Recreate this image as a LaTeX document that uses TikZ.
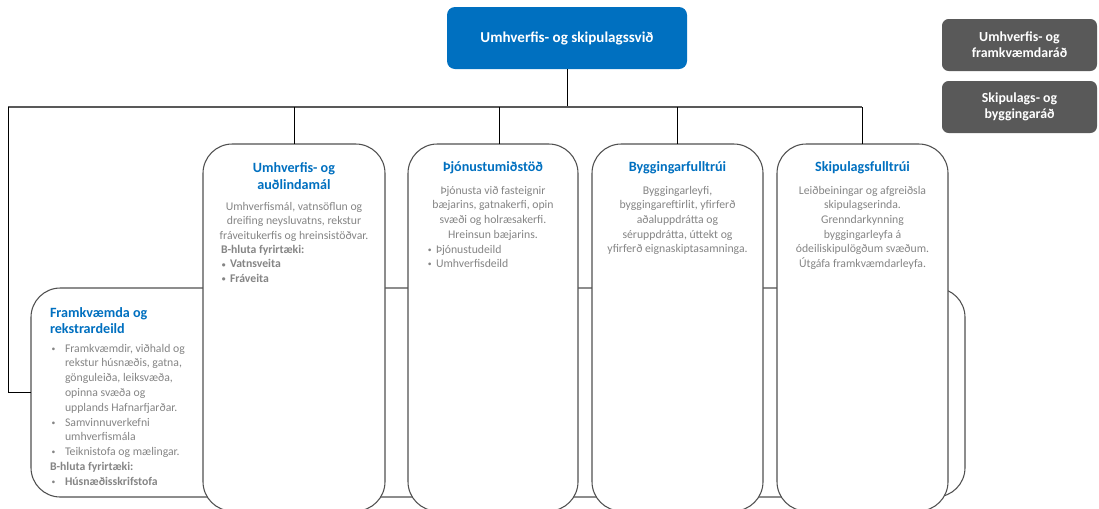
\documentclass[tikz,border=0pt]{standalone}
\usepackage{fontspec}
\setmainfont{Carlito}
\definecolor{blueh}{HTML}{0070C0}
\definecolor{grayt}{HTML}{858585}
\definecolor{darkbox}{HTML}{595959}
\definecolor{edgec}{HTML}{505050}
\newcommand\dotb{\raisebox{0.15ex}{\scalebox{0.65}{\textbullet}}}
\newcommand\bl{\hbox to 11.25pt{\hspace*{1.2pt}\dotb\hss}}
\newcommand\bs{\hbox to 6.75pt{\hspace*{0.6pt}\dotb\hss}}
\newcommand\ind{\hspace*{11.25pt}}
\begin{document}
\begin{tikzpicture}[x=0.75pt,y=-0.75pt,
  every node/.style={inner sep=0pt,outer sep=0pt},
  colbox/.style={draw=edgec,line width=0.8pt,fill=white,rounded corners=22pt,minimum height=275.25pt},
  bgbox/.style={draw=edgec,line width=0.8pt,fill=white,rounded corners=22pt,minimum width=700.5pt,minimum height=156.75pt},
  topbox/.style={fill=blueh,rounded corners=6pt,minimum width=180pt,minimum height=46.5pt,text=white,font=\fontsize{11.3}{13}\selectfont\bfseries},
  sidebox/.style={fill=darkbox,rounded corners=5pt,minimum width=116.25pt,minimum height=39pt,text=white,align=center,font=\fontsize{10.4}{12}\selectfont\bfseries},
  head/.style={text=blueh,align=center,font=\fontsize{10.6}{12.75}\selectfont\bfseries,anchor=north},
  lhead/.style={text=blueh,align=left,font=\fontsize{10.6}{12}\selectfont\bfseries,anchor=north west},
  body/.style={text=grayt,align=center,font=\fontsize{8.8}{11}\selectfont,anchor=north},
  lbody/.style={text=grayt,align=left,font=\fontsize{8.8}{11.1}\selectfont,anchor=north west},
  conn/.style={draw=black,line width=0.75pt},
  hconn/.style={draw=darkbox,line width=1.1pt}
]
\useasboundingbox (0,0) rectangle (1099,508);
\clip (0,0) rectangle (1099,508);

% background box (Framkvaemda og rekstrardeild)
\node[bgbox] (bg) at (498,392.5) {};

% top box
\node[topbox] (top) at (567,38) {Umhverfis- og skipulagssvið};
% side boxes
\node[sidebox] (s1) at (1019.5,45) {Umhverfis- og\\framkvæmdaráð};
\node[sidebox] (s2) at (1019.5,107) {Skipulags- og\\byggingaráð};

% connectors
\coordinate (lc) at (8,107);
\coordinate (rc) at (862,107);
\draw[conn] (top.south) -- (top.south |- lc);
\draw[hconn] (lc) -- (rc);
\draw[conn] (lc) |- (bg.west);

% column boxes
\node[colbox,minimum width=136.5pt] (c2) at (294,327.5) {};
\node[colbox,minimum width=127.5pt] (c3) at (493,327.5) {};
\node[colbox,minimum width=128.25pt] (c4) at (677.5,327.5) {};
\node[colbox,minimum width=128.25pt] (c5) at (862.5,327.5) {};

\draw[conn] (c2.north |- lc) -- (c2.north);
\draw[conn] ([xshift=4.5pt]c3.north |- lc) -- ([xshift=4.5pt]c3.north);
\draw[conn] (c4.north |- lc) -- (c4.north);
\draw[conn] (rc) -- (rc |- c5.north);

% column 2
\node[head] (h2) at (294,163) {Umhverfis- og\\auðlindamál};
\node[body] (b2) at (294,202) {Umhverfismál, vatnsöflun og\\dreifing neysluvatns, rekstur\\fráveitukerfis og hreinsistöðvar.};
\node[lbody,font=\fontsize{8.8}{11}\selectfont\bfseries] (f2) at (221,245) {B-hluta fyrirtæki:\\\bs Vatnsveita\\\bs Fráveita};

% column 3
\node[head] (h3) at (493,162) {Þjónustumiðstöð};
\node[body] (b3) at (493,186) {Þjónusta við fasteignir\\bæjarins, gatnakerfi, opin\\svæði og holræsakerfi.\\Hreinsun bæjarins.};
\node[lbody,font=\fontsize{8.8}{11}\selectfont] (f3) at (427,245) {\bs Þjónustudeild\\\bs Umhverfisdeild};

% column 4
\node[head] (h4) at (677.5,162) {Byggingarfulltrúi};
\node[body] (b4) at (677.5,186) {Byggingarleyfi,\\byggingareftirlit, yfirferð\\aðaluppdrátta og\\séruppdrátta, úttekt  og\\yfirferð eignaskiptasamninga.};

% column 5
\node[head] (h5) at (862.5,162) {Skipulagsfulltrúi};
\node[body] (b5) at (862.5,186) {Leiðbeiningar og afgreiðsla\\skipulagserinda.\\Grenndarkynning\\byggingarleyfa á\\ódeiliskipulögðum svæðum.\\Útgáfa framkvæmdarleyfa.};

% left box text
\node[lhead] (h1) at (50,308) {Framkvæmda og\\rekstrardeild};
\node[lbody] (b1) at (50,344) {\bl Framkvæmdir, viðhald og\\\ind rekstur húsnæðis, gatna,\\\ind gönguleiða, leiksvæða,\\\ind opinna svæða og\\\ind upplands Hafnarfjarðar.\\\bl Samvinnuverkefni\\\ind umhverfismála\\\bl Teiknistofa og mælingar.\\\textbf{B-hluta fyrirtæki:}\\\bl\textbf{Húsnæðisskrifstofa}};
\end{tikzpicture}
\end{document}
